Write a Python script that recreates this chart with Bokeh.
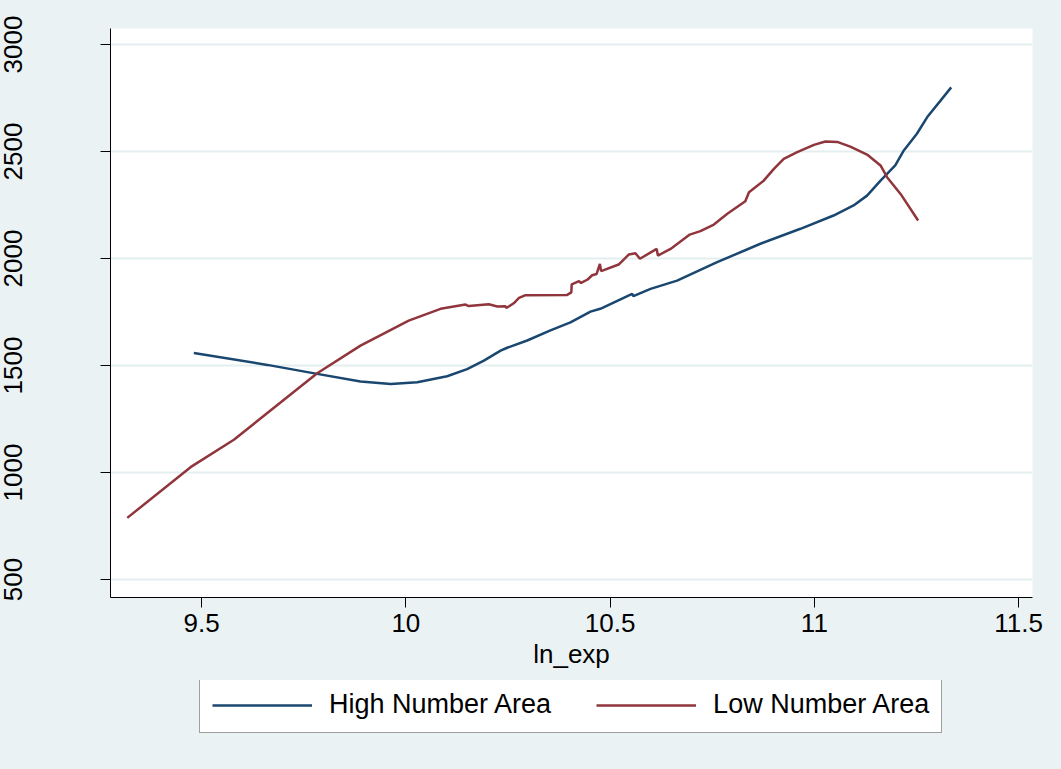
from bokeh.plotting import figure
from bokeh.layouts import column
from bokeh.models import Range1d, FixedTicker, Legend, LegendItem
from bokeh.embed import file_html
from bokeh.resources import INLINE

# High Number Area (navy)
high_x = [9.481, 9.661, 9.783, 9.889, 9.963, 10.028, 10.101, 10.150, 10.191, 10.232,
          10.248, 10.297, 10.354, 10.403, 10.452, 10.476, 10.554, 10.557, 10.599, 10.664,
          10.762, 10.868, 10.966, 11.047, 11.096, 11.129, 11.162, 11.198, 11.219, 11.251,
          11.276, 11.335]
high_y = [1559, 1503, 1461, 1425, 1414, 1422, 1450, 1483, 1523, 1570,
          1583, 1617, 1664, 1702, 1752, 1765, 1835, 1824, 1858, 1897,
          1983, 2069, 2139, 2201, 2248, 2294, 2364, 2435, 2505, 2583,
          2660, 2800]

# Low Number Area (maroon)
low_x = [9.318, 9.473, 9.579, 9.783, 9.889, 10.007, 10.085, 10.146, 10.154, 10.203,
         10.224, 10.244, 10.246, 10.264, 10.277, 10.293, 10.395, 10.405, 10.406, 10.424,
         10.429, 10.445, 10.456, 10.467, 10.475, 10.478, 10.521, 10.546, 10.562, 10.573,
         10.614, 10.617, 10.648, 10.695, 10.721, 10.754, 10.787, 10.831, 10.840, 10.876,
         10.901, 10.925, 10.958, 10.999, 11.027, 11.056, 11.088, 11.129, 11.162, 11.178,
         11.211, 11.254]
low_y = [788, 1025, 1153, 1464, 1593, 1710, 1765, 1785, 1778, 1786,
         1776, 1777, 1769, 1791, 1816, 1829, 1830, 1842, 1879, 1894,
         1886, 1902, 1922, 1928, 1975, 1941, 1972, 2019, 2025, 1999,
         2045, 2014, 2045, 2112, 2128, 2159, 2209, 2268, 2310, 2364,
         2419, 2466, 2497, 2531, 2547, 2545, 2523, 2486, 2435, 2380,
         2302, 2178]

x_ticks = [9.5, 10, 10.5, 11, 11.5]
y_ticks = [500, 1000, 1500, 2000, 2500, 3000]
series_names = ["High Number Area", "Low Number Area"]

BG = "#EAF2F3"
NAVY = "#1A476F"
MAROON = "#90353B"
FONT = "Liberation Sans"

MAIN_H = 680
p = figure(width=1061, height=MAIN_H, output_backend="svg", toolbar_location=None,
           x_range=Range1d(9.277, 11.534), y_range=Range1d(416, 3075),
           min_border_left=110, min_border_right=29, min_border_top=28,
           min_border_bottom=MAIN_H - 597)
p.background_fill_color = "white"
p.border_fill_color = BG
p.outline_line_color = None

p.line(high_x, high_y, line_color=NAVY, line_width=2.5)
p.line(low_x, low_y, line_color=MAROON, line_width=2.5)

for ax in (p.xaxis[0], p.yaxis[0]):
    ax.axis_line_color = "black"
    ax.axis_line_width = 1
    ax.major_tick_line_color = "black"
    ax.major_tick_out = 10
    ax.major_tick_in = 0
    ax.minor_tick_line_color = None
    ax.major_label_text_font = FONT
    ax.major_label_text_font_size = "26px"
    ax.major_label_text_color = "black"

p.xaxis.ticker = FixedTicker(ticks=x_ticks)
p.xaxis.major_label_overrides = {9.5: "9.5", 10: "10", 10.5: "10.5", 11: "11", 11.5: "11.5"}
p.xaxis.major_label_standoff = 6
p.xaxis.axis_label = "ln_exp"
p.xaxis.axis_label_text_font = FONT
p.xaxis.axis_label_text_font_size = "26px"
p.xaxis.axis_label_text_font_style = "normal"
p.xaxis.axis_label_text_color = "black"
p.xaxis.axis_label_standoff = 4

p.yaxis.ticker = FixedTicker(ticks=y_ticks)
p.yaxis.major_label_orientation = "parallel"
p.yaxis.major_label_standoff = 78

p.xgrid.grid_line_color = None
p.ygrid.ticker = FixedTicker(ticks=y_ticks)
p.ygrid.grid_line_color = "#E4EDEF"
p.ygrid.grid_line_width = 2

# Legend strip below the chart (its frame lines up with the chart frame)
LEG_H = 769 - MAIN_H
lg = figure(width=1061, height=LEG_H, output_backend="svg", toolbar_location=None,
            x_range=Range1d(0, 1), y_range=Range1d(0, 1),
            x_axis_type=None, y_axis_type=None,
            min_border_left=110, min_border_right=29, min_border_top=0, min_border_bottom=0)
lg.background_fill_color = None
lg.border_fill_color = None
lg.outline_line_color = None
lg.xgrid.visible = False
lg.ygrid.visible = False
# same series, outside the visible range of this strip: only their legend samples show
l1 = lg.line(high_x, high_y, line_color=NAVY, line_width=2.5)
l2 = lg.line(low_x, low_y, line_color=MAROON, line_width=2.5)

legend = Legend(items=[LegendItem(label=series_names[0], renderers=[l1]),
                       LegendItem(label=series_names[1], renderers=[l2])],
                orientation="horizontal", location=(89, LEG_H - 53),
                label_text_font=FONT, label_text_font_size="27px",
                label_text_color="black",
                glyph_width=100, glyph_height=20, label_standoff=17,
                spacing=45, padding=12, margin=0,
                border_line_color="#404040", border_line_width=1.5,
                background_fill_color="white", background_fill_alpha=1.0)
lg.add_layout(legend, "center")

layout = column(p, lg, spacing=0, styles={"background-color": BG})
open("out.html", "w").write(file_html(layout, INLINE))
